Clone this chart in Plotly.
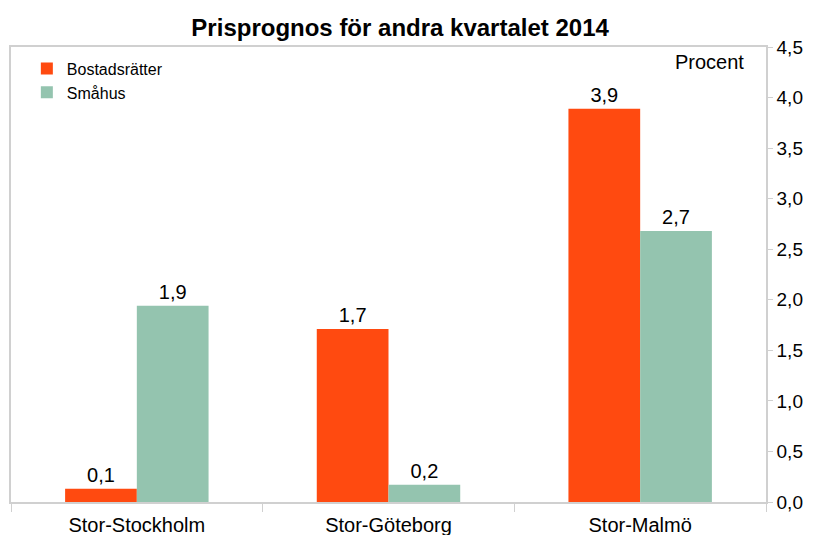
import plotly.graph_objects as go

categories = ["Stor-Stockholm", "Stor-Göteborg", "Stor-Malmö"]
bostadsratter = [0.13, 1.71, 3.89]
smahus = [1.94, 0.17, 2.68]
series_names = ["Bostadsrätter", "Småhus"]
y_ticks = [0, 0.5, 1, 1.5, 2, 2.5, 3, 3.5, 4, 4.5]

font_family = "Liberation Sans, Arial, sans-serif"

fig = go.Figure()
fig.add_trace(go.Bar(
    x=categories, y=bostadsratter, name=series_names[0],
    marker=dict(color="#FF4A10", line=dict(width=0)),
    texttemplate="%{y:.1f}", textposition="outside",
    textfont=dict(size=20, color="#000000"), cliponaxis=False,
))
fig.add_trace(go.Bar(
    x=categories, y=smahus, name=series_names[1],
    marker=dict(color="#94C4AF", line=dict(width=0)),
    texttemplate="%{y:.1f}", textposition="outside",
    textfont=dict(size=20, color="#000000"), cliponaxis=False,
))

fig.update_layout(
    width=797, height=527,
    margin=dict(l=3, r=39, t=39, b=33, autoexpand=False),
    paper_bgcolor="white", plot_bgcolor="white",
    separators=", ",
    font=dict(family=font_family, color="#000000"),
    title=dict(text="<b>Prisprognos för andra kvartalet 2014</b>",
               x=0.492, xanchor="center", y=0.962, yanchor="middle",
               font=dict(size=24, family=font_family, color="#000000")),
    barmode="group", bargap=0.43, bargroupgap=0,
    showlegend=True,
    legend=dict(x=0.021, y=0.99, xanchor="left", yanchor="top",
                font=dict(size=16), bgcolor="rgba(0,0,0,0)",
                itemwidth=30),
    xaxis=dict(showline=True, linecolor="#D0D0D0", linewidth=1.5, mirror=True,
               ticks="outside", tickson="boundaries", ticklen=8, tickcolor="#D0D0D0",
               ticklabelstandoff=4, automargin=False,
               tickfont=dict(size=20), showgrid=False),
    yaxis=dict(side="right", range=[0, 4.5], tickvals=y_ticks, tickformat=".1f",
               showline=True, linecolor="#D0D0D0", linewidth=1.5, mirror=True,
               ticks="outside", ticklen=5, tickcolor="#D0D0D0", ticklabelstandoff=0,
               automargin=False,
               tickfont=dict(size=19), showgrid=False, zeroline=False),
    annotations=[dict(text="Procent", xref="paper", yref="paper", x=0.974, y=0.967,
                      xanchor="right", yanchor="middle", showarrow=False,
                      font=dict(size=20))],
)

fig.write_html("out.html")
